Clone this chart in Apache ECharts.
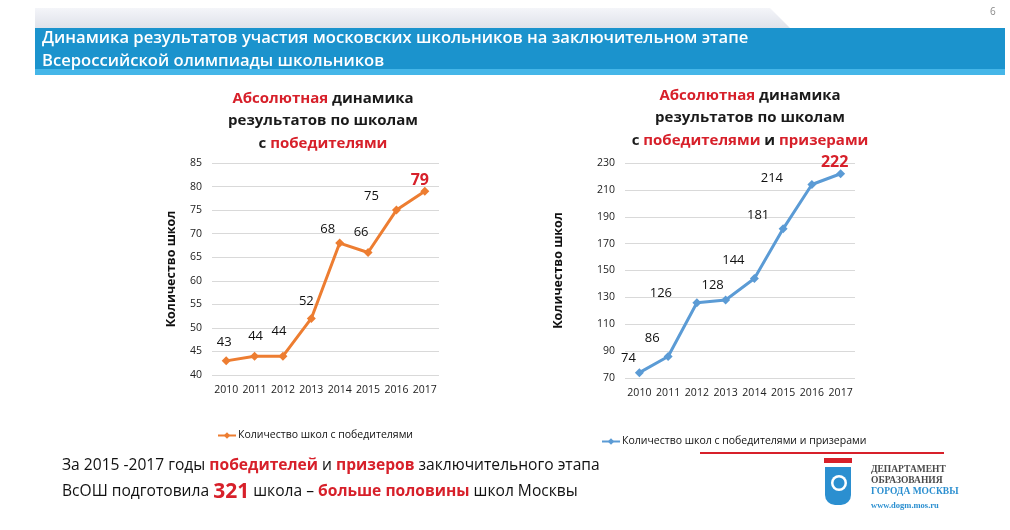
<!DOCTYPE html>
<html>
<head>
<meta charset="utf-8">
<script src="https://cdn.jsdelivr.net/npm/echarts@6/dist/echarts.min.js"></script>
<style>
  html, body { margin: 0; padding: 0; background: #fff; }
  #main { width: 1010px; height: 530px; }
</style>
</head>
<body>
<div id="main"></div>
<script>
// данные
const years = ['2010', '2011', '2012', '2013', '2014', '2015', '2016', '2017'];
const winners = [43, 44, 44, 52, 68, 66, 75, 79];
const winnersPrize = [74, 86, 126, 128, 144, 181, 214, 222];
const ticksLeft = [40, 45, 50, 55, 60, 65, 70, 75, 80, 85];
const ticksRight = [70, 90, 110, 130, 150, 170, 190, 210, 230];
const nameLeft = 'Количество школ с победителями';
const nameRight = 'Количество школ с победителями и призерами';

// сдвиг подписей значений (как на слайде)
const shiftLeft = [[-2, -19], [1, -20], [-4, -25], [-5, -17], [-12, -14], [-7, -20], [-25, -14], [-5, -11]];
const shiftRight = [[-11, -14], [-16, -18], [-36, -9], [-13, -15], [-21, -18], [-25, -14], [-40, -6], [-6, -11]];

const FONT = '"Open Sans", "Noto Sans", sans-serif';
const SERIF = '"Liberation Serif", "DejaVu Serif", serif';
const RED = '#d7202a';
const ORANGE = '#ed7d31';
const BLUE = '#5b9bd5';

function points(values, shifts) {
  return values.map((v, i) => {
    const item = { value: v, label: { offset: shifts[i] } };
    if (i === values.length - 1) {
      item.label.color = RED;
      item.label.fontSize = 16;
      item.label.fontWeight = 'bold';
    }
    return item;
  });
}

function yAxis(idx, ticks, gap) {
  return {
    gridIndex: idx,
    type: 'value',
    min: ticks[0],
    max: ticks[ticks.length - 1],
    interval: ticks[1] - ticks[0],
    name: 'Количество школ',
    nameLocation: 'middle',
    nameGap: gap,
    nameTextStyle: { fontFamily: FONT, fontSize: 12.5, fontWeight: 'bold', color: '#111' },
    axisLine: { show: false },
    axisTick: { show: false },
    axisLabel: { fontFamily: FONT, fontSize: 10.5, color: '#222', margin: 10 },
    splitLine: { lineStyle: { color: '#d9d9d9', width: 1 } }
  };
}

function xAxis(idx) {
  return {
    gridIndex: idx,
    type: 'category',
    data: years,
    boundaryGap: true,
    axisLine: { show: false },
    axisTick: { show: false },
    axisLabel: { fontFamily: FONT, fontSize: 10.5, color: '#222', margin: 10, interval: 0 }
  };
}

function series(name, idx, values, shifts, color) {
  return {
    name: name,
    type: 'line',
    xAxisIndex: idx,
    yAxisIndex: idx,
    data: points(values, shifts),
    symbol: 'diamond',
    symbolSize: 9,
    lineStyle: { width: 3, color: color },
    itemStyle: { color: color },
    label: {
      show: true,
      position: 'inside',
      fontFamily: FONT,
      fontSize: 13,
      color: '#111'
    },
    z: 3
  };
}

const titleRich = {
  r: { color: RED, fontFamily: FONT, fontSize: 15, fontWeight: 'bold', lineHeight: 22.5 },
  k: { color: '#1a1a1a', fontFamily: FONT, fontSize: 15, fontWeight: 'bold', lineHeight: 22.5 }
};

let chart = echarts.init(document.getElementById('main'));
chart.setOption({
  animation: false,
  backgroundColor: '#fff',
  title: [
    {
      text: '{r|Абсолютная}{k| динамика}\n{k|результатов по школам}\n{k|с }{r|победителями}',
      left: 318, top: 82, textAlign: 'center',
      textStyle: { rich: titleRich, align: 'center' }
    },
    {
      text: '{r|Абсолютная}{k| динамика}\n{k|результатов по школам}\n{k|с }{r|победителями}{k| и }{r|призерами}',
      left: 745, top: 79, textAlign: 'center',
      textStyle: { rich: titleRich, align: 'center' }
    }
  ],
  legend: [
    {
      data: [nameLeft], left: 212, top: 425,
      itemWidth: 18, itemHeight: 8, itemGap: 2,
      textStyle: { fontFamily: FONT, fontSize: 10.5, color: '#111', padding: [0, 0, 0, -3] }
    },
    {
      data: [nameRight], left: 596, top: 431,
      itemWidth: 18, itemHeight: 8, itemGap: 2,
      textStyle: { fontFamily: FONT, fontSize: 10.5, color: '#111', padding: [0, 0, 0, -3] }
    }
  ],
  grid: [
    { left: 212, right: 571, top: 163, bottom: 155 },
    { left: 625, right: 155, top: 163, bottom: 152 }
  ],
  xAxis: [xAxis(0), xAxis(1)],
  yAxis: [yAxis(0, ticksLeft, 34), yAxis(1, ticksRight, 60)],
  series: [
    series(nameLeft, 0, winners, shiftLeft, ORANGE),
    series(nameRight, 1, winnersPrize, shiftRight, BLUE)
  ],
  graphic: [
    // серая плашка сверху
    {
      type: 'polygon',
      shape: { points: [[35, 8], [770, 8], [790, 28], [35, 28]] },
      style: {
        fill: new echarts.graphic.LinearGradient(0, 0, 0, 1, [
          { offset: 0, color: '#f4f5f9' },
          { offset: 1, color: '#dfe2ea' }
        ])
      }
    },
    { type: 'text', left: 990, top: 7, style: { text: '6', font: '10px ' + FONT, fill: '#8a8a8a' } },
    // синяя плашка с заголовком
    { type: 'rect', shape: { x: 35, y: 28, width: 970, height: 47 }, style: { fill: '#1b93cd' } },
    { type: 'rect', shape: { x: 35, y: 69, width: 970, height: 6 }, style: { fill: '#45b6e8' } },
    {
      type: 'text', left: 42, top: 27,
      style: {
        text: 'Динамика результатов участия московских школьников на заключительном этапе\nВсероссийской олимпиады школьников',
        font: '600 16.6px ' + FONT, fill: '#fff', lineHeight: 23
      }
    },
    // нижний текст
    {
      type: 'text', left: 62, top: 458,
      style: {
        text: '{n|За 2015 -2017 годы }{r|победителей}{n| и }{r|призеров}{n| заключительного этапа}\n{n|ВсОШ подготовила }{b|321}{n| школа – }{r|больше половины}{n| школ Москвы}',
        rich: {
          n: { fontFamily: FONT, fontSize: 15.6, fill: '#111', lineHeight: 26 },
          r: { fontFamily: FONT, fontSize: 15.6, fontWeight: 'bold', fill: RED, lineHeight: 26 },
          b: { fontFamily: FONT, fontSize: 21, fontWeight: 'bold', fill: RED, lineHeight: 26 }
        }
      }
    },
    { type: 'line', shape: { x1: 700, y1: 453, x2: 944, y2: 453 }, style: { stroke: '#d7202a', lineWidth: 2 } },
    // логотип
    {
      type: 'group', left: 824, top: 458,
      children: [
        { type: 'rect', shape: { x: 0, y: 0, width: 28, height: 5 }, style: { fill: '#d7202a' } },
        { type: 'rect', shape: { x: 0, y: 5, width: 28, height: 3 }, style: { fill: '#fff' } },
        { type: 'rect', shape: { x: 1, y: 9, width: 26, height: 38, r: [0, 0, 10, 10] }, style: { fill: '#2b8fd0' } },
        { type: 'circle', shape: { cx: 15, cy: 25, r: 8 }, style: { fill: '#fff' } },
        { type: 'circle', shape: { cx: 15, cy: 25, r: 5.5 }, style: { fill: '#2b8fd0' } }
      ]
    },
    {
      type: 'text', left: 871, top: 465,
      style: {
        text: '{d|ДЕПАРТАМЕНТ}\n{d|ОБРАЗОВАНИЯ}\n{g|ГОРОДА МОСКВЫ}\n{w|www.dogm.mos.ru}',
        rich: {
          d: { fontFamily: SERIF, fontSize: 9.5, fontWeight: 'bold', fill: '#4a4a4a', lineHeight: 11 },
          g: { fontFamily: SERIF, fontSize: 9.5, fontWeight: 'bold', fill: '#2b8fd0', lineHeight: 11 },
          w: { fontFamily: SERIF, fontSize: 8.5, fontWeight: 'bold', fill: '#2b8fd0', lineHeight: 16 }
        }
      }
    }
  ]
});
</script>
</body>
</html>
